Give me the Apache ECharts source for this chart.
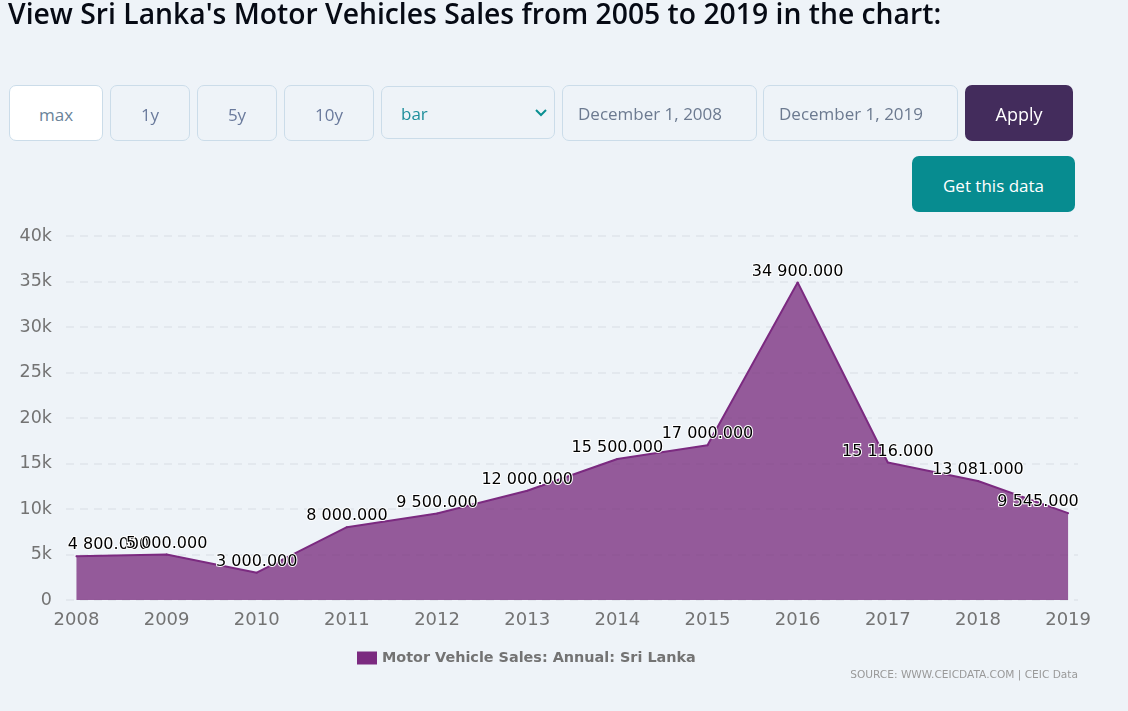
<!DOCTYPE html>
<html><head><meta charset="utf-8">
<style>
html,body{margin:0;padding:0;background:#eef3f8;width:1128px;height:711px;overflow:hidden;font-family:"Open Sans","Noto Sans",sans-serif}
#chart{position:absolute;left:0;top:0;width:1128px;height:711px}
h1{position:absolute;left:8px;top:-5px;margin:0;font:600 28.3px/36px "Open Sans",sans-serif;color:#060a14;white-space:nowrap}
.b{position:absolute;box-sizing:border-box;border:1px solid #cbdce9;border-radius:7px;display:flex;align-items:center;font-size:17px;color:#6a7a9c;padding-top:2px}
.c{justify-content:center}
.f{color:#6c7a90;padding-left:15px;padding-top:0}
</style></head><body>
<div id="chart"></div>
<h1>View Sri Lanka's Motor Vehicles Sales from 2005 to 2019 in the chart:</h1>
<div class="b c" style="left:9px;top:85px;width:94px;height:56px;background:#fff;color:#6a8399">max</div>
<div class="b c" style="left:110px;top:85px;width:80px;height:56px">1y</div>
<div class="b c" style="left:197px;top:85px;width:80px;height:56px">5y</div>
<div class="b c" style="left:284px;top:85px;width:90px;height:56px">10y</div>
<div class="b" style="left:381px;top:86px;width:174px;height:53px;padding-left:19px;color:#1f8f9c">bar
<svg width="14" height="10" style="position:absolute;left:152px;top:21px"><path d="M2 2 L7 7 L12 2" fill="none" stroke="#0a8f92" stroke-width="2"/></svg></div>
<div class="b f" style="left:562px;top:85px;width:195px;height:56px">December 1, 2008</div>
<div class="b f" style="left:763px;top:85px;width:195px;height:56px">December 1, 2019</div>
<div class="b c" style="left:965px;top:85px;width:108px;height:56px;background:#432c5c;border:0;color:#fff;font-size:18px">Apply</div>
<div class="b c" style="left:912px;top:156px;width:163px;height:56px;background:#078c90;border:0;color:#fff;font-size:17px">Get this data</div>
<script src="https://cdn.jsdelivr.net/npm/echarts@6/dist/echarts.min.js"></script>
<script>
const years = [2008,2009,2010,2011,2012,2013,2014,2015,2016,2017,2018,2019];
const sales = [4800,5000,3000,8000,9500,12000,15500,17000,34900,15116,13081,9545];
const seriesName = 'Motor Vehicle Sales: Annual: Sri Lanka';
const sourceText = 'SOURCE: WWW.CEICDATA.COM | CEIC Data';

const font = '"DejaVu Sans",sans-serif';
const fmtLabel = v => {
  const s = String(Math.floor(v));
  return s.replace(/\B(?=(\d{3})+$)/g,' ') + '.000';
};
const chart = echarts.init(document.getElementById('chart'), null, {renderer:'canvas'});
chart.setOption({
  animation:false,
  backgroundColor:'transparent',
  grid:{left:66,right:50,top:236,bottom:111,containLabel:false},
  xAxis:{
    type:'value', min:2007.884, max:2019.11,
    axisLine:{show:false}, axisTick:{show:false}, splitLine:{show:false},
    axisLabel:{customValues:years, margin:11, color:'#737373', fontFamily:font, fontSize:18, formatter:v=>String(v), hideOverlap:false}
  },
  yAxis:{
    type:'value', min:0, max:40000, interval:5000,
    axisLine:{show:false}, axisTick:{show:false},
    splitLine:{show:true, lineStyle:{color:'#dfe5ea', type:[8,6], width:1.5}},
    axisLabel:{margin:14, color:'#737373', fontFamily:font, fontSize:17.5, padding:[2,0,0,0],
      formatter:v=> v===0 ? '0' : (v/1000)+'k'}
  },
  legend:{
    left:352, top:646, itemWidth:20, itemHeight:13, itemGap:5, icon:'rect',
    textStyle:{color:'#737373', fontFamily:font, fontWeight:'bold', fontSize:14.4, padding:[1,0,0,0]},
    data:[seriesName]
  },
  series:[{
    name:seriesName, type:'line', silent:true,
    symbol:'circle', symbolSize:2, showSymbol:true, showAllSymbol:true,
    data:years.map((y,i)=>[y,sales[i]]),
    itemStyle:{color:'#7b2a80'},
    lineStyle:{color:'#7b2a80', width:2},
    areaStyle:{color:'#772a7c', opacity:0.76},
    label:{show:true, position:'top', distance:2, color:'#000', fontFamily:font, fontSize:16,
      textBorderColor:'#fff', textBorderWidth:2,
      formatter:p=>fmtLabel(p.value[1])},
    labelLayout:p=>({
      hideOverlap:false,
      dx: p.dataIndex===0 ? 32 : p.dataIndex===years.length-1 ? -30 : 0
    }),
    z:3
  }],
  graphic:[{type:'text', right:50, top:670, style:{text:sourceText, fill:'#999', font:'10.6px '+font, textAlign:'right'}}]
});
</script>
</body></html>
